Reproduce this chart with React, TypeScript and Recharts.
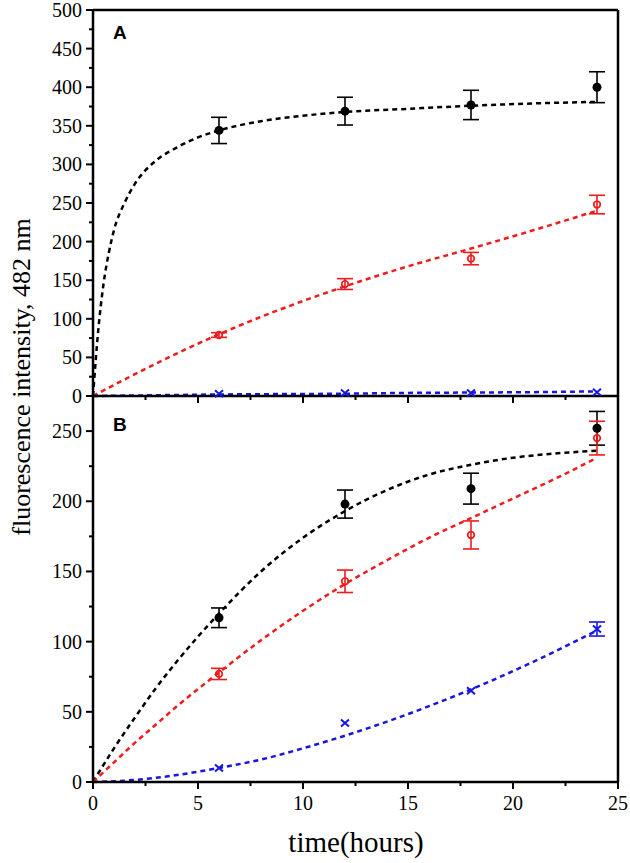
import React from 'react';
import {
  ComposedChart,
  Line,
  Scatter,
  ErrorBar,
  XAxis,
  YAxis,
  ReferenceLine,
} from 'recharts';

// measured points, panel A
const timesA = [6, 12, 18, 24];
const blackA = [344, 369, 377, 400];
const blackErrA = [17, 18, 19, 20];
const redA = [79, 145, 178, 248];
const redErrA = [3, 7, 8, 12];
const blueA = [3, 4, 4, 5];

// measured points, panel B
const timesB = [6, 12, 18, 24];
const blackB = [117, 198, 209, 252];
const blackErrB = [7, 10, 11, 12];
const redB = [77, 143, 176, 245];
const redErrB = [4, 8, 10, 12];
const blueB = [10, 42, 65, 109];
const blueErrB = [0, 0, 0, 5];

// fitted curves
const fitTimesA = [0, 0.25, 0.5, 0.75, 1, 1.5, 2, 3, 4, 5, 6, 8, 10, 12, 15, 18, 21, 24];
const fitBlackA = [0, 85, 145, 185, 215, 250, 275, 305, 322, 335, 344, 356, 363, 368, 372, 376, 379, 381];
const fitTimesA2 = [0, 3, 6, 9, 12, 15, 18, 21, 24];
const fitRedA = [0, 42, 80, 113, 142, 168, 191, 215, 240];
const fitBlueA = [0, 1, 2, 2.5, 3, 4, 4.5, 5, 6];

const fitTimesB = [0, 1, 2, 3, 4, 6, 8, 10, 12, 14, 16, 18, 20, 22, 24];
const fitBlackB = [0, 24, 46, 67, 86, 120, 150, 174, 193, 208, 219, 226, 231, 234, 236];
const fitRedB = [0, 14, 28, 41, 54, 78, 101, 122, 141, 158, 174, 188, 202, 216, 231];
const fitBlueB = [0, 0.5, 1.5, 3, 5, 10, 16, 24, 33, 43, 54, 66, 79, 93, 108];

const xTicks = [0, 2.5, 5, 7.5, 10, 12.5, 15, 17.5, 20, 22.5, 25];
const yTicksA = [0, 25, 50, 75, 100, 125, 150, 175, 200, 225, 250, 275, 300, 325, 350, 375, 400, 425, 450, 475, 500];
const yTicksB = [0, 25, 50, 75, 100, 125, 150, 175, 200, 225, 250];

const BLACK = '#000000';
const RED = '#ee1c1c';
const BLUE = '#1616e0';
const SERIF = '"Liberation Serif", "Times New Roman", serif';

const pts = (ts: number[], vs: number[], es?: number[]) =>
  ts.map((t, i) => ({ t, v: vs[i], e: es ? es[i] : 0 }));

const XTick = (props: any) => {
  const { x, y, payload, showLabel } = props;
  const major = payload.value % 5 === 0;
  return (
    <g>
      <line x1={x} y1={y} x2={x} y2={y + (major ? 7 : 4)} stroke={BLACK} strokeWidth={2} />
      {showLabel && major && (
        <text x={x} y={y + 28} textAnchor="middle" style={{ fontFamily: SERIF, fontSize: 20 }} fill={BLACK}>
          {payload.value}
        </text>
      )}
    </g>
  );
};

const YTick = (props: any) => {
  const { x, y, payload } = props;
  const major = payload.value % 50 === 0;
  return (
    <g>
      <line x1={x} y1={y} x2={x - (major ? 7 : 4)} y2={y} stroke={BLACK} strokeWidth={2} />
      {major && (
        <text x={x - 11} y={y + 7} textAnchor="end" style={{ fontFamily: SERIF, fontSize: 20 }} fill={BLACK}>
          {payload.value}
        </text>
      )}
    </g>
  );
};

const Filled = (p: any) => <circle cx={p.cx} cy={p.cy} r={4.5} fill={BLACK} />;
const Open = (p: any) => (
  <circle cx={p.cx} cy={p.cy} r={3.3} fill="none" stroke={RED} strokeWidth={1.7} />
);
const Cross = (p: any) => (
  <path
    d={`M${p.cx - 4},${p.cy - 3.5}L${p.cx + 4},${p.cy + 3.5}M${p.cx + 4},${p.cy - 3.5}L${p.cx - 4},${p.cy + 3.5}`}
    stroke={BLUE}
    strokeWidth={2}
  />
);

const dash = '5 4';

function Panel(props: {
  height: number;
  xHeight: number;
  topMargin: number;
  yMax: number;
  yTicks: number[];
  showXLabels: boolean;
  fits: { data: { t: number; v: number; e: number }[]; color: string }[];
  points: { data: { t: number; v: number; e: number }[]; color: string; shape: any; err: boolean }[];
  topLine: boolean;
}) {
  return (
    <ComposedChart
      width={630}
      height={props.height}
      margin={{ top: props.topMargin, right: 12, bottom: 0, left: 0 }}
    >
      <XAxis
        dataKey="t"
        type="number"
        domain={[0, 25]}
        ticks={xTicks}
        interval={0}
        height={props.xHeight}
        tickSize={0}
        tickMargin={0}
        tickLine={false}
        axisLine={{ stroke: BLACK, strokeWidth: 2.5 }}
        tick={<XTick showLabel={props.showXLabels} />}
      />
      <YAxis
        type="number"
        domain={[0, props.yMax]}
        ticks={props.yTicks}
        interval={0}
        width={93}
        tickSize={0}
        tickMargin={0}
        tickLine={false}
        axisLine={{ stroke: BLACK, strokeWidth: 2.5 }}
        tick={<YTick />}
      />
      <ReferenceLine x={25} stroke={BLACK} strokeWidth={2.5} />
      {props.topLine && <ReferenceLine y={props.yMax} stroke={BLACK} strokeWidth={2.5} />}
      {props.fits.map((f, i) => (
        <Line
          key={`fit-${i}`}
          data={f.data}
          dataKey="v"
          type="monotone"
          stroke={f.color}
          strokeWidth={2.5}
          strokeDasharray={dash}
          dot={false}
          activeDot={false}
          isAnimationActive={false}
        />
      ))}
      {props.points.map((s, i) => (
        <Scatter key={`pts-${i}`} data={s.data} dataKey="v" shape={s.shape} isAnimationActive={false}>
          {s.err && (
            <ErrorBar dataKey="e" direction="y" width={8} stroke={s.color} strokeWidth={1.6} />
          )}
        </Scatter>
      ))}
    </ComposedChart>
  );
}

export default function App() {
  return (
    <div style={{ position: 'absolute', left: 0, top: 0, width: 630, height: 863, background: '#fff' }}>
      <div style={{ position: 'absolute', left: 0, top: 396, zIndex: 1 }}>
        <Panel
          height={467}
          xHeight={81}
          topMargin={0}
          yMax={275}
          yTicks={yTicksB}
          showXLabels
          topLine={false}
          fits={[
            { data: pts(fitTimesB, fitBlackB), color: BLACK },
            { data: pts(fitTimesB, fitRedB), color: RED },
            { data: pts(fitTimesB, fitBlueB), color: BLUE },
          ]}
          points={[
            { data: pts(timesB, blackB, blackErrB), color: BLACK, shape: Filled, err: true },
            { data: pts(timesB, redB, redErrB), color: RED, shape: Open, err: true },
            { data: pts(timesB, blueB, blueErrB), color: BLUE, shape: Cross, err: true },
          ]}
        />
      </div>
      <div style={{ position: 'absolute', left: 0, top: 0, zIndex: 2 }}>
        <Panel
          height={414}
          xHeight={18}
          topMargin={10}
          yMax={500}
          yTicks={yTicksA}
          showXLabels={false}
          topLine
          fits={[
            { data: pts(fitTimesA, fitBlackA), color: BLACK },
            { data: pts(fitTimesA2, fitRedA), color: RED },
            { data: pts(fitTimesA2, fitBlueA), color: BLUE },
          ]}
          points={[
            { data: pts(timesA, blackA, blackErrA), color: BLACK, shape: Filled, err: true },
            { data: pts(timesA, redA, redErrA), color: RED, shape: Open, err: true },
            { data: pts(timesA, blueA), color: BLUE, shape: Cross, err: false },
          ]}
        />
      </div>
      <div
        style={{
          position: 'absolute',
          left: 113,
          top: 22,
          zIndex: 3,
          fontFamily: '"Liberation Sans", Arial, sans-serif',
          fontWeight: 'bold',
          fontSize: 19,
        }}
      >
        A
      </div>
      <div
        style={{
          position: 'absolute',
          left: 113,
          top: 414,
          zIndex: 3,
          fontFamily: '"Liberation Sans", Arial, sans-serif',
          fontWeight: 'bold',
          fontSize: 19,
        }}
      >
        B
      </div>
      <div
        style={{
          position: 'absolute',
          left: 22,
          top: 377,
          transform: 'translate(-50%, -50%) rotate(-90deg)',
          whiteSpace: 'nowrap',
          fontFamily: SERIF,
          fontSize: 26,
          zIndex: 3,
        }}
      >
        fluorescence intensity, 482 nm
      </div>
      <div
        style={{
          position: 'absolute',
          left: 356,
          top: 826,
          transform: 'translateX(-50%)',
          whiteSpace: 'nowrap',
          fontFamily: SERIF,
          fontSize: 29,
        }}
      >
        time(hours)
      </div>
    </div>
  );
}
